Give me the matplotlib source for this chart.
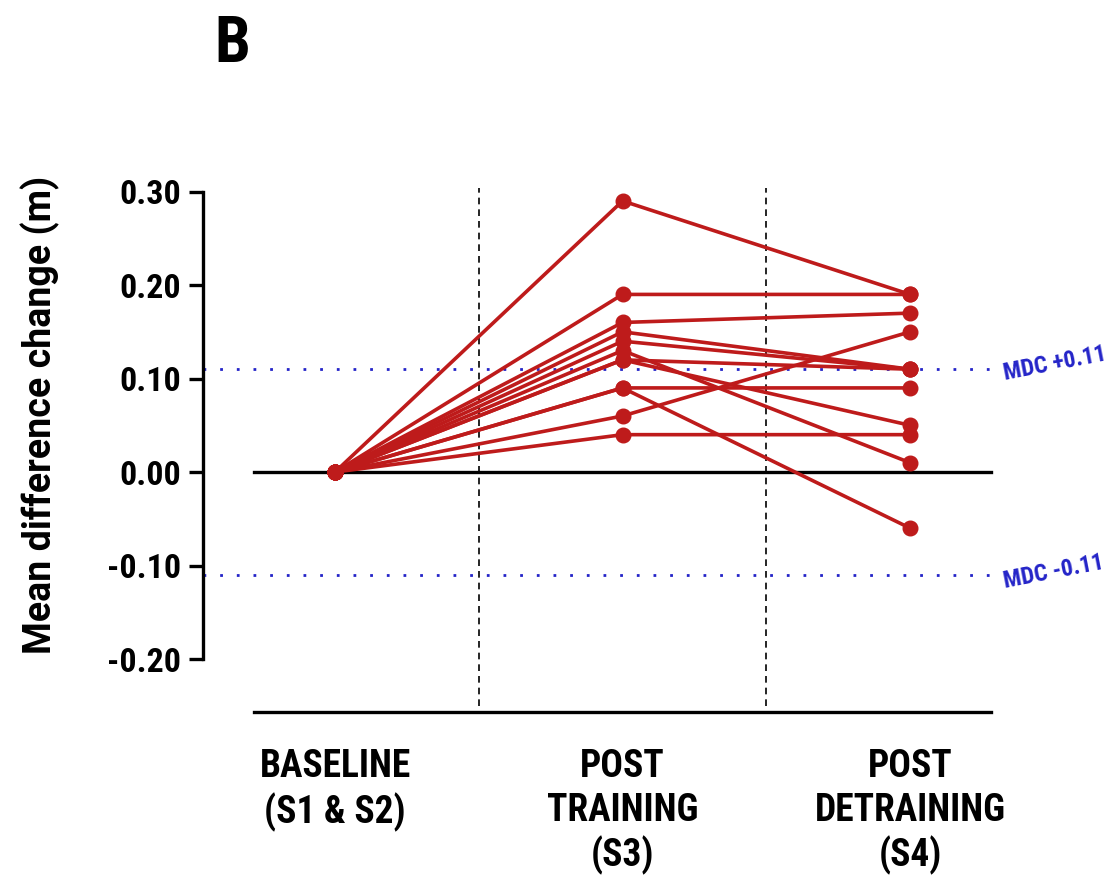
import matplotlib
matplotlib.use('Agg')
import matplotlib.pyplot as plt
from matplotlib import font_manager
import numpy as np

# Data
stages = ['BASELINE\n(S1 & S2)', 'POST\nTRAINING\n(S3)', 'POST\nDETRAINING\n(S4)']
baseline = [0.0] * 12
post_training = [0.29, 0.19, 0.16, 0.15, 0.14, 0.13, 0.12, 0.12, 0.09, 0.09, 0.06, 0.04]
post_detraining = [0.19, 0.19, 0.17, 0.11, 0.11, 0.01, 0.11, 0.05, 0.09, -0.06, 0.15, 0.04]
mdc = 0.11
y_ticks = [-0.20, -0.10, 0.00, 0.10, 0.20, 0.30]

# pick a narrow font if one is around
available = {f.name for f in font_manager.fontManager.ttflist}
font = 'Roboto'
for cand in ['Roboto Condensed', 'Liberation Sans Narrow', 'Open Sans Condensed', 'DejaVu Sans Condensed']:
    if cand in available:
        font = cand
        break
plt.rcParams['font.family'] = [font, 'DejaVu Sans']
plt.rcParams['font.weight'] = 'bold'

red = '#BE1B1B'
blue = '#2424C8'

fig = plt.figure(figsize=(11.13, 8.75), dpi=100)
ax = fig.add_axes([0.1824, 0.1859, 0.718, 0.6272])

x = np.arange(len(stages))
for b, t, d in zip(baseline, post_training, post_detraining):
    ax.plot(x, [b, t, d], color=red, lw=2.6, marker='o', ms=10.5, zorder=3)

# reference lines
ax.plot([-0.28, 2.28], [0, 0], color='black', lw=2.4, zorder=2)
for xv in [0.5, 1.5]:
    ax.plot([xv, xv], [-0.25, 0.304], color='black', lw=1.2, ls=(0, (4, 3)), zorder=1)
for yv in [mdc, -mdc]:
    ax.plot([-0.459, 2.3], [yv, yv], color=blue, lw=2, ls=(0, (1, 5)), zorder=1)
ax.text(2.33, mdc - 0.012, 'MDC +0.11', color=blue, fontsize=17, rotation=11,
        rotation_mode='anchor', va='baseline', ha='left', clip_on=False)
ax.text(2.33, -mdc - 0.014, 'MDC -0.11', color=blue, fontsize=17, rotation=11,
        rotation_mode='anchor', va='baseline', ha='left', clip_on=False)

ax.set_xlim(-0.459, 2.32)
ax.set_ylim(-0.257, 0.33)
ax.set_yticks(y_ticks)
ax.set_yticklabels([f'{v:.2f}' for v in y_ticks])
ax.set_xticks(x)
ax.set_xticklabels(stages, linespacing=1.22, fontsize=27)

for s in ['top', 'right']:
    ax.spines[s].set_visible(False)
ax.spines['left'].set_bounds(-0.2, 0.3)
ax.spines['bottom'].set_bounds(-0.28, 2.28)
ax.spines['left'].set_linewidth(2.4)
ax.spines['bottom'].set_linewidth(2.4)
ax.tick_params(axis='y', length=10, width=2.4, labelsize=24.5, pad=6)
ax.tick_params(axis='x', length=0, pad=26)
ax.set_ylabel('Mean difference change (m)', fontsize=27, fontweight='bold',
              family=['Roboto', 'DejaVu Sans'])
ax.yaxis.set_label_coords(-0.179, 0.542)

fig.text(0.193, 0.929, 'B', fontsize=46, fontweight='bold')

fig.savefig('out.png', dpi=100)
